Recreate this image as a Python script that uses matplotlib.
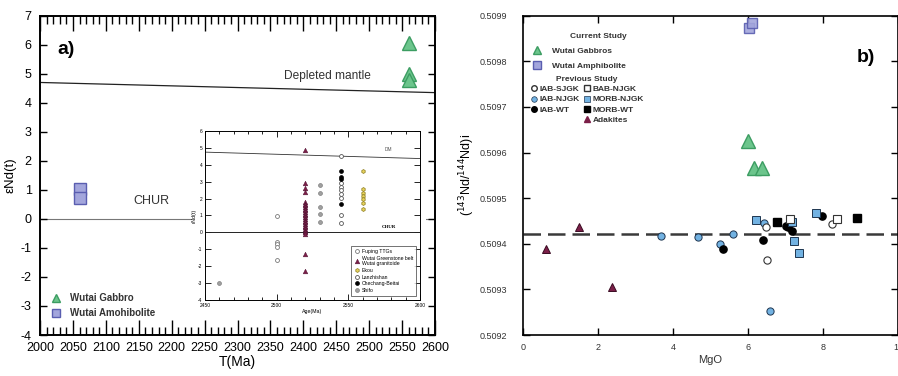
import numpy as np
import matplotlib.pyplot as plt
from matplotlib.lines import Line2D
from matplotlib.patches import Rectangle
from matplotlib.ticker import MultipleLocator, FormatStrFormatter

plt.rcParams['font.family'] = ['Liberation Sans', 'DejaVu Sans']
plt.rcParams['axes.unicode_minus'] = False

# ---- panel a : eNd(t) vs T(Ma) ----
gabbro_t = [2560, 2560, 2560]
gabbro_end = [6.05, 5.0, 4.8]
amph_t = [2060, 2060]
amph_end = [1.02, 0.72]
dm_t = [2000, 2600]
dm_end = [4.7, 4.35]

# ---- inset (previous data) ----
dm_in_t = [2450, 2600]
dm_in_end = [4.75, 4.37]
fuping_t = [2500, 2500, 2500, 2500, 2500]
fuping_end = [0.97, -0.55, -0.7, -0.85, -1.65]
wutai_gsb_t = [2520] * 26
wutai_gsb_end = [4.88, 2.9, 2.62, 2.4, 1.82, 1.7, 1.6, 1.5, 1.4, 1.3, 1.2, 1.1,
                 1.0, 0.9, 0.8, 0.7, 0.6, 0.5, 0.4, 0.3, 0.2, 0.1, 0.0, -0.1,
                 -1.3, -2.3]
shifo_t = [2460, 2530, 2530, 2530, 2530, 2530]
shifo_end = [-3.0, 2.8, 2.35, 1.52, 1.07, 0.63]
lanzhi_t = [2545] * 8
lanzhi_end = [4.55, 2.9, 2.7, 2.5, 2.3, 2.05, 1.03, 0.54]
chechang_t = [2545, 2545, 2545, 2545]
chechang_end = [3.65, 3.26, 3.14, 1.68]
ekou_t = [2560] * 7
ekou_end = [3.65, 2.55, 2.35, 2.15, 1.98, 1.76, 1.37]

# ---- panel b : (143Nd/144Nd)i vs MgO ----
gabbros_mgo = [6.0, 6.15, 6.37]
gabbros_nd = [0.509626, 0.509566, 0.509566]
amphib_mgo = [6.03, 6.1]
amphib_nd = [0.509873, 0.509884]
iab_sjgk_mgo = [6.49, 6.5, 8.24]
iab_sjgk_nd = [0.509437, 0.509364, 0.509443]
iab_njgk_mgo = [3.68, 4.66, 5.26, 5.6, 6.43, 6.58]
iab_njgk_nd = [0.509416, 0.509414, 0.509399, 0.509421, 0.509445, 0.509253]
iab_wt_mgo = [5.35, 6.39, 7.02, 7.08, 7.17, 7.97]
iab_wt_nd = [0.509388, 0.509408, 0.50944, 0.509436, 0.509427, 0.50946]
bab_njgk_mgo = [7.11, 8.37]
bab_njgk_nd = [0.509454, 0.509454]
morb_njgk_mgo = [6.22, 7.17, 7.22, 7.35, 7.81]
morb_njgk_nd = [0.509452, 0.509447, 0.509406, 0.50938, 0.509468]
morb_wt_mgo = [6.77, 8.91]
morb_wt_nd = [0.509447, 0.509457]
adakite_mgo = [0.62, 1.49, 2.38]
adakite_nd = [0.509389, 0.509437, 0.509306]
chur_nd = 0.509421

green_f, green_e = '#6cc58c', '#3c9d62'
blue_f, blue_e = '#a3a6dc', '#5a5eb0'
lblue = '#72b2e2'
maroon = '#7b1f48'

fig = plt.figure(figsize=(8.98, 3.76), dpi=100)
W, H = 898.0, 376.0

# ================= panel a =================
ax = fig.add_axes([40 / W, 1 - 335 / H, 395 / W, 319.3 / H])
ax.plot(dm_t, dm_end, color='#222222', lw=0.9, zorder=1)
ax.axhline(0, color='#777777', lw=0.8, zorder=1)
ax.plot(gabbro_t, gabbro_end, linestyle='none', marker='^', ms=10,
        mfc=green_f, mec=green_e, mew=1, zorder=4, label='Wutai Gabbro')
ax.plot(amph_t, amph_end, linestyle='none', marker='s', ms=9,
        mfc=blue_f, mec=blue_e, mew=1, zorder=4, label='Wutai Amohibolite')
ax.text(2437, 4.92, 'Depleted mantle', fontsize=8.6, color='#333333',
        ha='center', va='center')
ax.text(2170, 0.6, 'CHUR', fontsize=9, color='#333333',
        ha='center', va='center')
ax.text(0.045, 0.893, 'a)', transform=ax.transAxes, fontsize=14,
        fontweight='bold', va='center')

ax.set_xlim(2000, 2600)
ax.set_ylim(-4, 7)
ax.xaxis.set_major_locator(MultipleLocator(50))
ax.xaxis.set_minor_locator(MultipleLocator(10))
ax.yaxis.set_major_locator(MultipleLocator(1))
ax.tick_params(axis='x', which='major', direction='in', top=True,
               length=10.5, width=1, labelsize=9, pad=5)
ax.tick_params(axis='x', which='minor', direction='in', top=True,
               length=5.5, width=1)
ax.tick_params(axis='y', which='major', direction='in', right=True,
               length=5, width=1, labelsize=9, pad=6)
for s in ax.spines.values():
    s.set_linewidth(1.4)
ax.set_xlabel('T(Ma)', fontsize=10, labelpad=1)
ax.set_ylabel('εNd(t)', fontsize=9.5, labelpad=3)
leg_a = ax.legend(loc='lower left', bbox_to_anchor=(-0.005, 0.025),
                  frameon=False, handletextpad=0.4,
                  labelspacing=0.55, markerscale=0.6,
                  prop={'weight': 'bold', 'size': 7})
for t in leg_a.get_texts():
    t.set_color('#333333')

# white backing of the inset picture
ax.add_patch(Rectangle((192 / W, 1 - 313 / H), 234 / W, 185 / H,
                       transform=fig.transFigure, facecolor='white',
                       edgecolor='none', zorder=6))

# ================= inset =================
axi = fig.add_axes([205 / W, 1 - 300 / H, 215 / W, 169 / H])
axi.set_zorder(5)
axi.plot(dm_in_t, dm_in_end, color='#333333', lw=0.6)
axi.axhline(0, color='#222222', lw=0.7)
ms_in = 2.8
axi.plot(fuping_t, fuping_end, linestyle='none', marker='o', ms=ms_in,
         mfc='white', mec='#777777', mew=0.6, label='Fuping TTGs')
axi.plot(wutai_gsb_t, wutai_gsb_end, linestyle='none', marker='^', ms=3.4,
         mfc=maroon, mec='#4a1030', mew=0.3,
         label='Wutai Greenstone belt\nWutai granitoide')
axi.plot(ekou_t, ekou_end, linestyle='none', marker='h', ms=ms_in,
         mfc='#e6d25a', mec='#8a7a20', mew=0.5, label='Ekou')
axi.plot(lanzhi_t, lanzhi_end, linestyle='none', marker='o', ms=ms_in,
         mfc='white', mec='#555555', mew=0.6, label='Lanzhishan')
axi.plot(chechang_t, chechang_end, linestyle='none', marker='o', ms=ms_in,
         mfc='black', mec='black', mew=0.5, label='Chechang-Beitai')
axi.plot(shifo_t, shifo_end, linestyle='none', marker='o', ms=ms_in,
         mfc='#a0a0a0', mec='#808080', mew=0.5, label='Shifo')
axi.text(2578, 4.9, 'DM', fontsize=3.5, color='#555555', ha='center',
         va='center')
axi.text(2578, 0.32, 'CHUR', fontsize=3.5, fontweight='bold',
         family=['Liberation Serif', 'DejaVu Serif'], ha='center',
         va='center')
axi.set_xlim(2450, 2600)
axi.set_ylim(-4, 6)
axi.set_xticks([2450, 2500, 2550, 2600])
axi.xaxis.set_minor_locator(MultipleLocator(10))
axi.yaxis.set_major_locator(MultipleLocator(1))
axi.tick_params(which='both', direction='in', top=True, right=True,
                labelsize=3.5, pad=2, width=0.6)
axi.tick_params(which='major', length=4)
axi.tick_params(which='minor', length=2.5)
for s in axi.spines.values():
    s.set_linewidth(0.7)
axi.set_xlabel('Age(Ma)', fontsize=3.8, labelpad=1)
axi.set_ylabel('εNd(t)', fontsize=3.8, labelpad=1)
leg_i = axi.legend(loc='lower right', bbox_to_anchor=(0.995, 0.01),
                   fontsize=3.7, frameon=True, fancybox=False,
                   edgecolor='#333333', handletextpad=0.3,
                   labelspacing=0.3, borderpad=0.6, handlelength=1.2)
leg_i.get_frame().set_linewidth(0.6)

# ================= panel b =================
bx = fig.add_axes([522.7 / W, 1 - 335 / H, 375.3 / W, 319.3 / H])
bx.axhline(chur_nd, color='#3a3a3a', lw=1.8, dashes=(7, 2.8), zorder=1)
ms_b = 5.2
bx.plot(adakite_mgo, adakite_nd, linestyle='none', marker='^', ms=6,
        mfc=maroon, mec='#3a0b22', mew=0.7, zorder=3)
bx.plot(iab_njgk_mgo, iab_njgk_nd, linestyle='none', marker='o', ms=ms_b,
        mfc=lblue, mec='#1e3550', mew=0.7, zorder=3)
bx.plot(iab_sjgk_mgo, iab_sjgk_nd, linestyle='none', marker='o', ms=ms_b,
        mfc='white', mec='#333333', mew=0.8, zorder=3)
bx.plot(iab_wt_mgo, iab_wt_nd, linestyle='none', marker='o', ms=ms_b,
        mfc='black', mec='black', zorder=3)
bx.plot(morb_njgk_mgo, morb_njgk_nd, linestyle='none', marker='s', ms=ms_b,
        mfc=lblue, mec='#1e3550', mew=0.7, zorder=3)
bx.plot(bab_njgk_mgo, bab_njgk_nd, linestyle='none', marker='s', ms=ms_b,
        mfc='white', mec='#333333', mew=0.8, zorder=3)
bx.plot(morb_wt_mgo, morb_wt_nd, linestyle='none', marker='s', ms=ms_b,
        mfc='black', mec='black', zorder=3)
bx.plot(gabbros_mgo, gabbros_nd, linestyle='none', marker='^', ms=10,
        mfc=green_f, mec=green_e, mew=1, zorder=4)
bx.plot(amphib_mgo, amphib_nd, linestyle='none', marker='s', ms=7.5,
        mfc=blue_f, mec=blue_e, mew=1, alpha=0.9, zorder=4)
bx.text(0.915, 0.87, 'b)', transform=bx.transAxes, fontsize=14,
        fontweight='bold', va='center', ha='center')

bx.set_xlim(0, 10)
bx.set_ylim(0.5092, 0.5099)
bx.xaxis.set_major_locator(MultipleLocator(2))
bx.yaxis.set_major_locator(MultipleLocator(0.0001))
bx.yaxis.set_major_formatter(FormatStrFormatter('%.4f'))
bx.tick_params(which='major', direction='in', top=True, right=True,
               length=5, width=1, labelsize=6.5, labelcolor='#333333')
bx.tick_params(axis='y', pad=11)
bx.tick_params(axis='x', pad=6)
for s in bx.spines.values():
    s.set_linewidth(1.2)
bx.set_xlabel('MgO', fontsize=8, color='#333333', labelpad=2)
bx.set_ylabel(r'($^{143}$Nd/$^{144}$Nd)i', fontsize=9, labelpad=2)

# legends of panel b
cur_handles = [
    Line2D([], [], linestyle='none', marker='^', ms=6, mfc=green_f,
           mec=green_e, label='Wutai Gabbros'),
    Line2D([], [], linestyle='none', marker='s', ms=6, mfc=blue_f,
           mec=blue_e, label='Wutai Amphibolite'),
]
leg1 = bx.legend(handles=cur_handles, title='Current Study',
                 loc='upper left', bbox_to_anchor=(0.01, 0.965),
                 frameon=False, prop={'weight': 'bold', 'size': 6},
                 title_fontproperties={'weight': 'bold', 'size': 6},
                 labelspacing=0.85, handletextpad=1.2, borderpad=0.2,
                 handlelength=1.2)
for t in leg1.get_texts():
    t.set_color('#333333')
leg1.get_title().set_color('#333333')
leg1._legend_box.align = 'right'
bx.add_artist(leg1)

prev_handles = [
    Line2D([], [], linestyle='none', marker='o', ms=4, mfc='white',
           mec='#333333', label='IAB-SJGK'),
    Line2D([], [], linestyle='none', marker='o', ms=4, mfc=lblue,
           mec='#1e3550', mew=0.5, label='IAB-NJGK'),
    Line2D([], [], linestyle='none', marker='o', ms=4, mfc='black',
           mec='black', label='IAB-WT'),
    Line2D([], [], linestyle='none', label=' '),
    Line2D([], [], linestyle='none', marker='s', ms=4, mfc='white',
           mec='#333333', label='BAB-NJGK'),
    Line2D([], [], linestyle='none', marker='s', ms=4, mfc=lblue,
           mec='#1e3550', mew=0.5, label='MORB-NJGK'),
    Line2D([], [], linestyle='none', marker='s', ms=4, mfc='black',
           mec='black', label='MORB-WT'),
    Line2D([], [], linestyle='none', marker='^', ms=4.5, mfc=maroon,
           mec=maroon, label='Adakites'),
]
leg2 = bx.legend(handles=prev_handles, title='Previous Study', ncol=2,
                 loc='upper left', bbox_to_anchor=(0.0, 0.83),
                 frameon=False, prop={'weight': 'bold', 'size': 6},
                 title_fontproperties={'weight': 'bold', 'size': 6},
                 labelspacing=0.3, handletextpad=0.1, borderpad=0.2,
                 handlelength=1.2, columnspacing=0.3)
for t in leg2.get_texts():
    t.set_color('#333333')
leg2.get_title().set_color('#333333')

fig.savefig('out.png', dpi=100)
